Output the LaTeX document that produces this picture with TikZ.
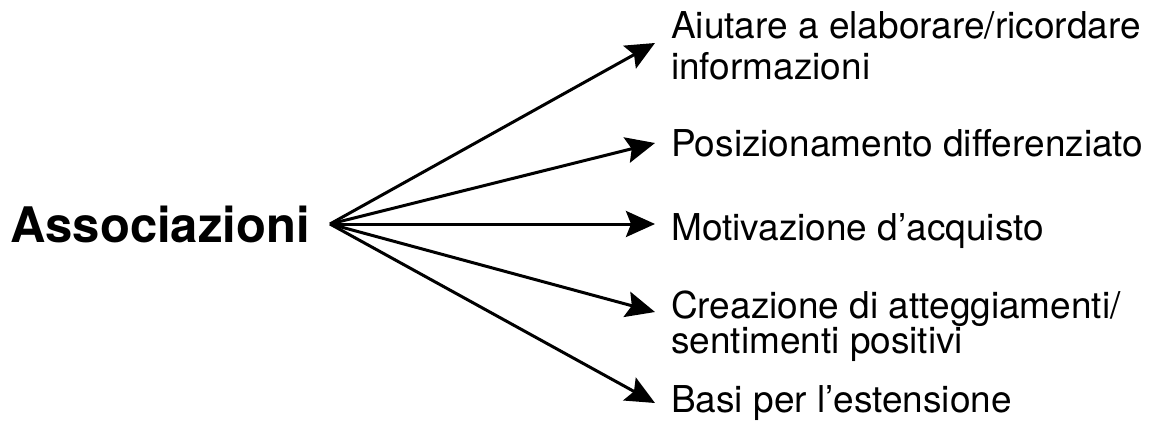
\documentclass[tikz,border=0pt]{standalone}
\usepackage{fontspec}
\setmainfont{TeX Gyre Heros}
\usetikzlibrary{arrows.meta}
\tikzset{
  link/.style={line width=3pt, -{Stealth[length=29pt, width=26pt, inset=5pt]}},
  hubtext/.style={anchor=base west, inner sep=0pt, font=\fontsize{49}{52}\selectfont\bfseries},
  leaf/.style={anchor=base west, inner sep=0pt, font=\fontsize{37}{34}\selectfont},
}
\begin{document}
\begin{tikzpicture}[x=1pt, y=-1pt]
  \useasboundingbox (0,0) rectangle (1151,425);
  % central concept
  \node[hubtext] (src) at (10,242) {Associazioni};
  \coordinate (hub) at (330,224);
  % outcome labels
  \node[leaf] (l1) at (671,39) {\vtop{\baselineskip=41pt\hbox{Aiutare a elaborare/ricordare}\hbox{informazioni}}};
  \node[leaf] (l2) at (671,157) {Posizionamento differenziato};
  \node[leaf] (l3) at (671,240) {Motivazione d’acquisto};
  \node[leaf] (l4) at (671,318) {\vtop{\baselineskip=35pt\hbox{Creazione di atteggiamenti/}\hbox{sentimenti positivi}}};
  \node[leaf] (l5) at (671,412) {Basi per l’estensione};
  % arrow tips just left of each label
  \coordinate (t1) at (655,43);
  \coordinate (t2) at (655,143);
  \coordinate (t3) at (655,224);
  \coordinate (t4) at (655,312);
  \coordinate (t5) at (655,403);
  \foreach \t in {t1,t2,t3,t4,t5}
    \draw[link] (hub) -- (\t);
\end{tikzpicture}
\end{document}
